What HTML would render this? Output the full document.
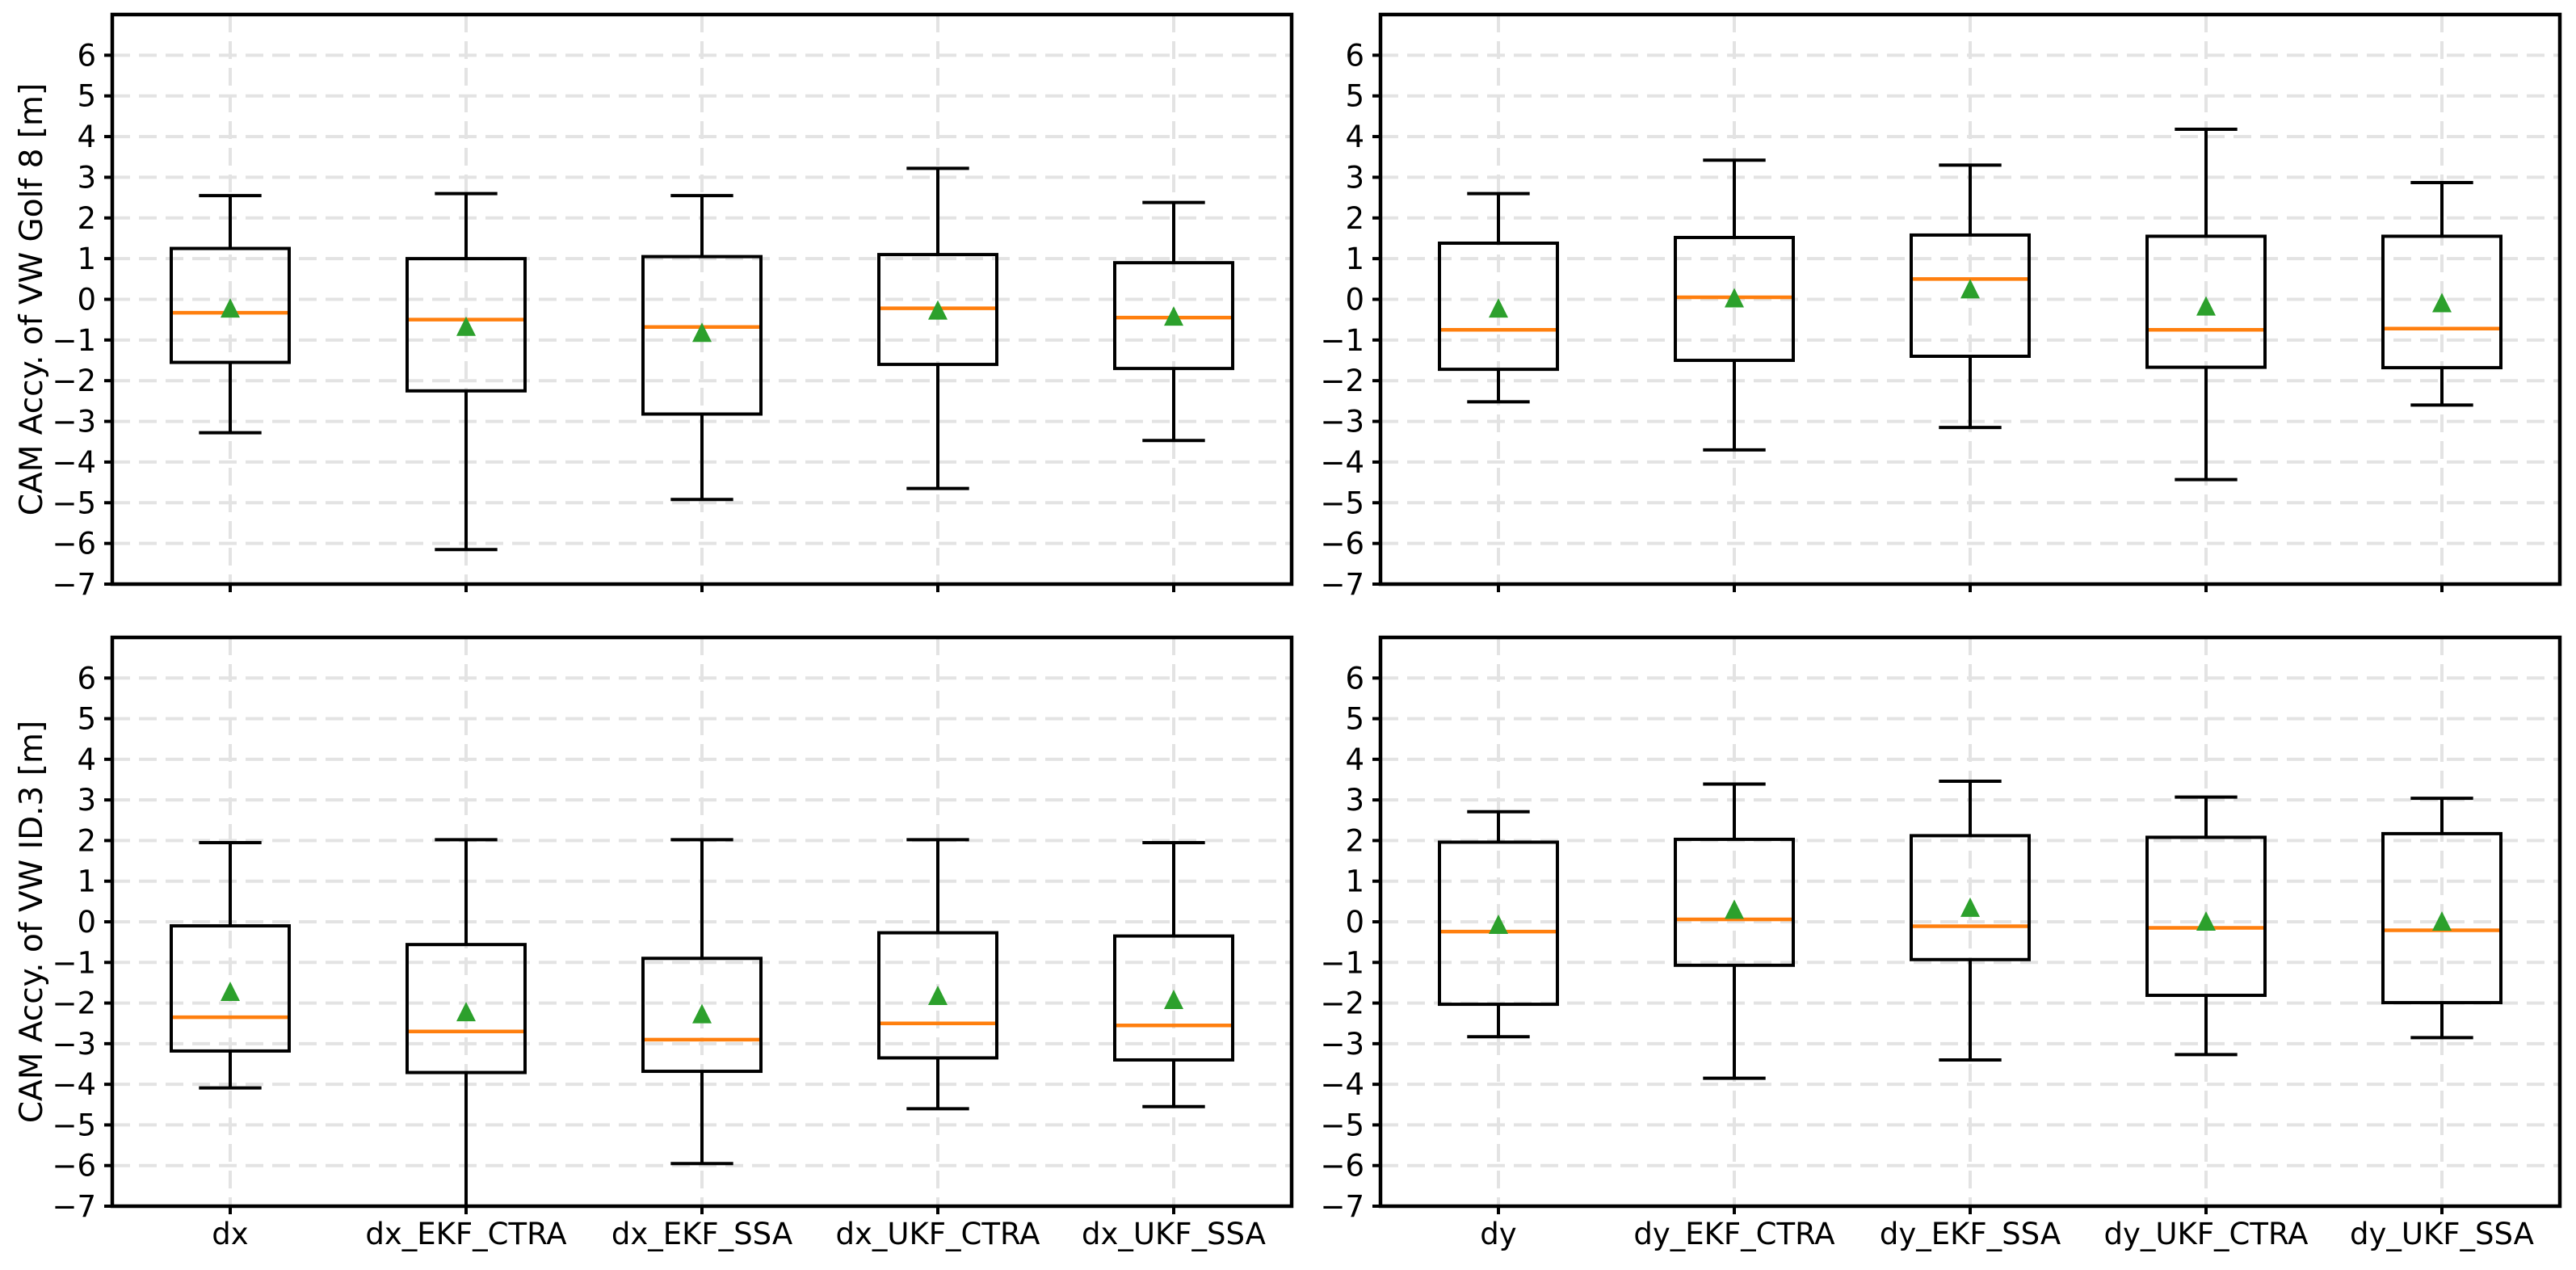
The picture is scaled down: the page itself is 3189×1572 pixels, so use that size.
<!DOCTYPE html>
<html><head><meta charset="utf-8"><style>
html,body{margin:0;padding:0;background:#fff;}
svg{display:block;font-family:"DejaVu Sans","Liberation Sans",sans-serif;}
</style></head><body>
<svg id="fig" width="3189" height="1572" viewBox="0 0 3189 1572" xmlns="http://www.w3.org/2000/svg"></svg>
<script>
const ticksY = [-7,-6,-5,-4,-3,-2,-1,0,1,2,3,4,5,6];
const tickLabelsY = ["\u22127","\u22126","\u22125","\u22124","\u22123","\u22122","\u22121","0","1","2","3","4","5","6"];
const catsX = ["dx","dx_EKF_CTRA","dx_EKF_SSA","dx_UKF_CTRA","dx_UKF_SSA"];
const catsY = ["dy","dy_EKF_CTRA","dy_EKF_SSA","dy_UKF_CTRA","dy_UKF_SSA"];
// Golf 8, dx
const g8dxHi  = [2.55, 2.6, 2.55, 3.22, 2.38];
const g8dxQ3  = [1.25, 1.0, 1.05, 1.1, 0.9];
const g8dxMed = [-0.33, -0.5, -0.68, -0.22, -0.45];
const g8dxQ1  = [-1.55, -2.25, -2.82, -1.6, -1.7];
const g8dxLo  = [-3.28, -6.15, -4.92, -4.65, -3.47];
const g8dxMean= [-0.25, -0.7, -0.85, -0.3, -0.45];
// Golf 8, dy
const g8dyHi  = [2.6, 3.42, 3.3, 4.18, 2.87];
const g8dyQ3  = [1.38, 1.52, 1.58, 1.55, 1.55];
const g8dyMed = [-0.75, 0.05, 0.5, -0.75, -0.72];
const g8dyQ1  = [-1.72, -1.5, -1.4, -1.67, -1.68];
const g8dyLo  = [-2.52, -3.7, -3.15, -4.43, -2.6];
const g8dyMean= [-0.25, 0.0, 0.22, -0.2, -0.12];
// ID.3, dx
const idDxHi  = [1.95, 2.02, 2.02, 2.02, 1.95];
const idDxQ3  = [-0.1, -0.56, -0.9, -0.27, -0.35];
const idDxMed = [-2.35, -2.7, -2.9, -2.5, -2.55];
const idDxQ1  = [-3.18, -3.71, -3.68, -3.35, -3.4];
const idDxLo  = [-4.09, -7.5, -5.95, -4.6, -4.55];
const idDxMean= [-1.75, -2.25, -2.3, -1.85, -1.95];
// ID.3, dy
const idDyHi  = [2.71, 3.39, 3.46, 3.07, 3.04];
const idDyQ3  = [1.96, 2.03, 2.12, 2.08, 2.17];
const idDyMed = [-0.24, 0.06, -0.11, -0.15, -0.21];
const idDyQ1  = [-2.03, -1.07, -0.93, -1.81, -1.99];
const idDyLo  = [-2.83, -3.85, -3.40, -3.27, -2.85];
const idDyMean= [-0.1, 0.27, 0.32, -0.02, -0.02];

const NS="http://www.w3.org/2000/svg";
const svg=document.getElementById('fig');
function mk(tag,attrs,parent){const e=document.createElementNS(NS,tag);for(const k in attrs)e.setAttribute(k,attrs[k]);(parent||svg).appendChild(e);return e;}

function panel(x0,x1,y0,y1,cats,hi,q3,med,q1,lo,mean,ylabel,showX,pname){
  const g=mk('g',{});
  
  
  const ymin=-7,ymax=7;
  const Y=v=>y1-(v-ymin)/(ymax-ymin)*(y1-y0);
  const step=(x1-x0)/cats.length;
  const X=i=>x0+step*(i+0.5);
  const clip='c'+pname;
  const cp=mk('clipPath',{id:clip},g);mk('rect',{x:x0,y:y0,width:x1-x0,height:y1-y0},cp);
  ticksY.forEach((t,i)=>{
    const l=mk('line',{x1:x0,x2:x1,y1:Y(t),y2:Y(t),stroke:'#e3e3e3','stroke-width':4,'stroke-dasharray':'22,11'},g);
    
    
    const tk=mk('line',{x1:x0-10,x2:x0,y1:Y(t),y2:Y(t),stroke:'#000','stroke-width':4},g);
    
    
    const tx=mk('text',{x:x0-20,y:Y(t)+13,'text-anchor':'end','font-size':37,fill:'#000'},g);
    tx.textContent=tickLabelsY[i];
    
    
  });
  cats.forEach((c,i)=>{
    const l=mk('line',{x1:X(i),x2:X(i),y1:y0,y2:y1,stroke:'#e3e3e3','stroke-width':4,'stroke-dasharray':'22,11'},g);
    
    
    const tk=mk('line',{x1:X(i),x2:X(i),y1:y1,y2:y1+10,stroke:'#000','stroke-width':4},g);
    
    
    if(showX){
      const tx=mk('text',{x:X(i),y:y1+47,'text-anchor':'middle','font-size':37,fill:'#000'},g);
      tx.textContent=c;
      
      
    }
  });
  const bw=step*0.5, cw=step*0.265;
  cats.forEach((c,i)=>{
    const b=mk('g',{'clip-path':'url(#'+clip+')'},g);
    
    
    const cx=X(i);
    mk('line',{x1:cx,x2:cx,y1:Y(q3[i]),y2:Y(hi[i]),stroke:'#000','stroke-width':4},b);
    mk('line',{x1:cx,x2:cx,y1:Y(q1[i]),y2:Y(lo[i]),stroke:'#000','stroke-width':4},b);
    mk('line',{x1:cx-cw/2,x2:cx+cw/2,y1:Y(hi[i]),y2:Y(hi[i]),stroke:'#000','stroke-width':4},b);
    mk('line',{x1:cx-cw/2,x2:cx+cw/2,y1:Y(lo[i]),y2:Y(lo[i]),stroke:'#000','stroke-width':4},b);
    mk('rect',{x:cx-bw/2,y:Y(q3[i]),width:bw,height:Y(q1[i])-Y(q3[i]),fill:'none',stroke:'#000','stroke-width':4},b);
    mk('line',{x1:cx-bw/2+2,x2:cx+bw/2-2,y1:Y(med[i]),y2:Y(med[i]),stroke:'#ff7f0e','stroke-width':4.5},b);
    const my=Y(mean[i]);
    mk('polygon',{points:`${cx},${my-14} ${cx-12},${my+10} ${cx+12},${my+10}`,fill:'#2ca02c'},b);
  });
  const fr=mk('rect',{x:x0,y:y0,width:x1-x0,height:y1-y0,fill:'none',stroke:'#000','stroke-width':4.5},g);
  
  
  if(ylabel){
    const cy=(y0+y1)/2;
    const t=mk('text',{x:38,y:cy,'text-anchor':'middle','font-size':39,fill:'#000',transform:`rotate(-90 38 ${cy}) translate(0 14)`},g);
    t.textContent=ylabel;
    
    
  }
}
panel(139,1599,18,723,catsX,g8dxHi,g8dxQ3,g8dxMed,g8dxQ1,g8dxLo,g8dxMean,"CAM Accy. of VW Golf 8 [m]",false,'panel-golf8-dx');
panel(1709,3169,18,723,catsY,g8dyHi,g8dyQ3,g8dyMed,g8dyQ1,g8dyLo,g8dyMean,null,false,'panel-golf8-dy');
panel(139,1599,789,1493,catsX,idDxHi,idDxQ3,idDxMed,idDxQ1,idDxLo,idDxMean,"CAM Accy. of VW ID.3 [m]",true,'panel-id3-dx');
panel(1709,3169,789,1493,catsY,idDyHi,idDyQ3,idDyMed,idDyQ1,idDyLo,idDyMean,null,true,'panel-id3-dy');
</script>
</body></html>
